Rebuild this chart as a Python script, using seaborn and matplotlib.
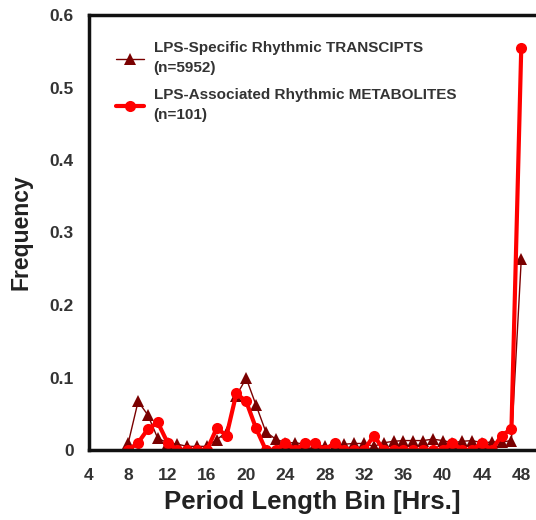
import numpy as np
import pandas as pd
import matplotlib
matplotlib.use('Agg')
import matplotlib.pyplot as plt
import seaborn as sns

# period bins (hours)
hours = list(range(8, 49))

# LPS-specific rhythmic transcripts (n=5952)
transcripts = [0.010, 0.067, 0.048, 0.016, 0.010, 0.008, 0.005, 0.005, 0.005, 0.014,
               0.025, 0.075, 0.099, 0.062, 0.025, 0.015, 0.010, 0.010, 0.008, 0.008,
               0.005, 0.005, 0.008, 0.009, 0.009, 0.005, 0.010, 0.012, 0.013, 0.013,
               0.013, 0.015, 0.013, 0.010, 0.012, 0.013, 0.010, 0.011, 0.011, 0.013,
               0.263]

# LPS-associated rhythmic metabolites (n=101)
metabolites = [0.000, 0.010, 0.029, 0.038, 0.010, 0.000, 0.000, 0.000, 0.000, 0.030,
               0.020, 0.078, 0.067, 0.030, 0.000, 0.000, 0.010, 0.000, 0.010, 0.010,
               0.000, 0.010, 0.000, 0.000, 0.000, 0.020, 0.000, 0.000, 0.000, 0.000,
               0.000, 0.000, 0.000, 0.010, 0.000, 0.000, 0.010, 0.000, 0.020, 0.029,
               0.555]

xticks = list(range(4, 49, 4))
yticks = [0, 0.1, 0.2, 0.3, 0.4, 0.5, 0.6]

df = pd.DataFrame({'hours': hours, 'transcripts': transcripts, 'metabolites': metabolites})

sns.set_style('white')
plt.rcParams['font.family'] = ['Liberation Sans', 'DejaVu Sans']

fig = plt.figure(figsize=(5.36, 5.2), dpi=100)
ax = fig.add_axes([89/536, 70/520, 447/536, 435/520])

sns.lineplot(data=df, x='hours', y='transcripts', ax=ax, color='#7a0000',
             linewidth=1.0, marker='^', markersize=8, markeredgewidth=0,
             label='LPS-Specific Rhythmic TRANSCIPTS\n(n=5952)')
sns.lineplot(data=df, x='hours', y='metabolites', ax=ax, color='#ff0000',
             linewidth=3.0, marker='o', markersize=8, markeredgewidth=0,
             label='LPS-Associated Rhythmic METABOLITES\n(n=101)')

ax.set_xlim(4, 49.5)
ax.set_ylim(0, 0.6)
ax.set_xticks(xticks)
ax.set_yticks(yticks)
ax.set_yticklabels(['0', '0.1', '0.2', '0.3', '0.4', '0.5', '0.6'])
ax.tick_params(axis='both', labelsize=12.5, colors='#999999', length=5, width=0.8,
               direction='out', labelcolor='#333333')
ax.tick_params(axis='x', pad=8)
ax.tick_params(axis='y', pad=6)
for lab in ax.get_xticklabels() + ax.get_yticklabels():
    lab.set_fontweight('bold')

for s in ['left', 'bottom', 'top']:
    ax.spines[s].set_linewidth(2.5)
    ax.spines[s].set_color('#111111')
ax.spines['right'].set_visible(False)

ax.set_xlabel('Period Length Bin [Hrs.]', fontsize=18.5, fontweight='bold', color='#222222', labelpad=5)
ax.set_ylabel('Frequency', fontsize=16.5, fontweight='bold', color='#222222', labelpad=12)

leg = ax.legend(loc='upper left', bbox_to_anchor=(0.03, 0.971), frameon=False,
                prop={'weight': 'bold', 'size': 11}, handlelength=1.85,
                handletextpad=0.6, labelspacing=0.85, labelcolor='#333333')
for t in leg.get_texts():
    t.set_linespacing(1.55)

fig.savefig('out.png', dpi=100)
